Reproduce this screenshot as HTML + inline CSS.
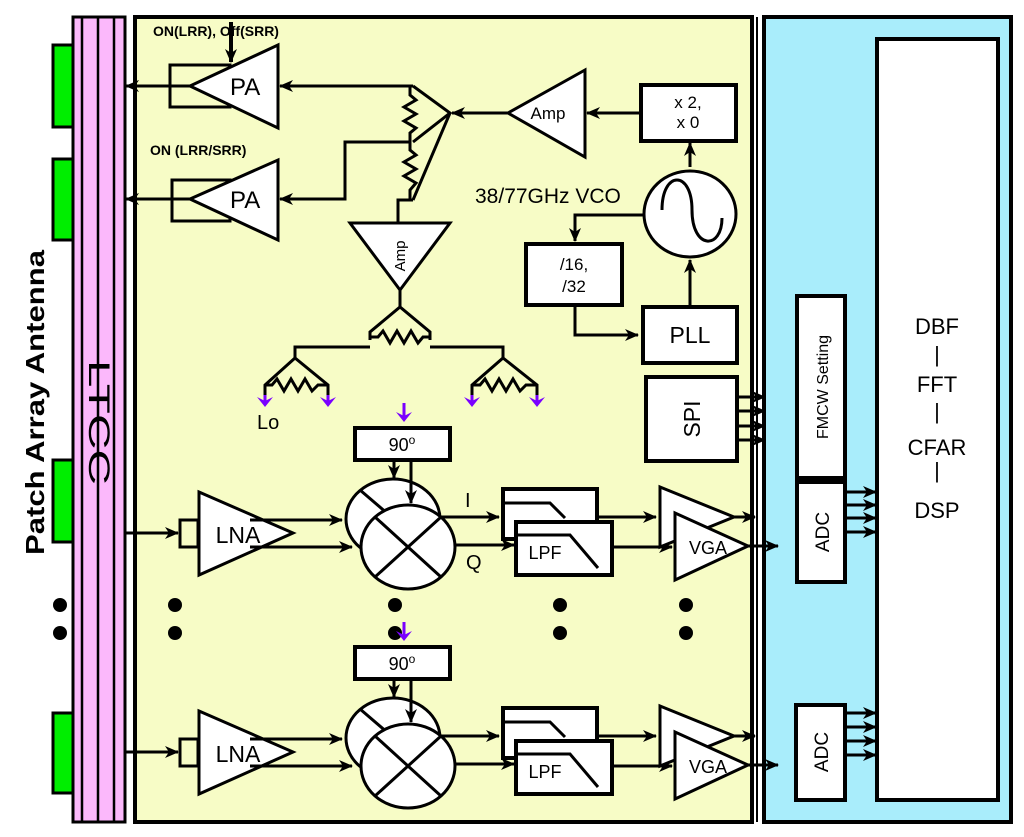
<!DOCTYPE html>
<html><head><meta charset="utf-8"><style>body{margin:0;background:#fff}svg{display:block}text{font-family:"Liberation Sans",Arial,sans-serif}</style></head><body>
<svg width="1024" height="837" viewBox="0 0 1024 837" xmlns="http://www.w3.org/2000/svg">
<defs>
<marker id="a" markerWidth="14" markerHeight="12" refX="13" refY="6" orient="auto" markerUnits="userSpaceOnUse"><path d="M0,0 L14,6 L0,12 L4,6 z" fill="#000"/></marker>
<marker id="p" markerWidth="16" markerHeight="16" refX="8" refY="14" orient="0" markerUnits="userSpaceOnUse"><path d="M0,6 L8,16 L16,6 L8,10 z" fill="#7a00ff"/></marker>
</defs>
<rect x="135" y="17" width="617" height="805" fill="#f7fcc6" stroke="#000" stroke-width="4"/>
<rect x="764" y="17" width="247" height="805" fill="#a9edfb" stroke="#000" stroke-width="4"/>
<rect x="877" y="39" width="121" height="761" fill="#fff" stroke="#000" stroke-width="4"/>
<line x1="757" y1="17" x2="757" y2="822" stroke="#000" stroke-width="2"/>
<rect x="73" y="17" width="52" height="805" fill="#fbb8fb" stroke="#000" stroke-width="3"/>
<g stroke="#000" stroke-width="2.5"><line x1="82" y1="17" x2="82" y2="822"/><line x1="98" y1="17" x2="98" y2="822"/><line x1="114" y1="17" x2="114" y2="822"/></g>
<g fill="#00ee00" stroke="#000" stroke-width="3"><rect x="53" y="45" width="20" height="82"/><rect x="53" y="159" width="20" height="81"/><rect x="53" y="460" width="20" height="82"/><rect x="53" y="713" width="20" height="80"/></g>
<text transform="translate(89,360) rotate(90)" font-size="30" fill="#000" textLength="125" lengthAdjust="spacingAndGlyphs">LTCC</text>
<text transform="translate(44,555) rotate(-90)" font-size="26" font-weight="bold" textLength="305" lengthAdjust="spacingAndGlyphs">Patch Array Antenna</text>
<g fill="#000"><circle cx="60" cy="605" r="7"/><circle cx="60" cy="633" r="7"/><circle cx="175" cy="605" r="7"/><circle cx="175" cy="633" r="7"/><circle cx="395" cy="605" r="7"/><circle cx="395" cy="633" r="7"/><circle cx="560" cy="605" r="7"/><circle cx="560" cy="633" r="7"/><circle cx="686" cy="605" r="7"/><circle cx="686" cy="633" r="7"/></g>

<g stroke="#000" stroke-width="3" fill="none">
<rect x="170" y="65" width="60" height="42"/>
<polygon points="190,86 278,45 278,128" fill="#fff"/>
<line x1="190" y1="86" x2="126" y2="86" marker-end="url(#a)"/>
<line x1="231" y1="22" x2="231" y2="62" stroke-width="4" marker-end="url(#a)"/>
<rect x="172" y="180" width="58" height="41"/>
<polygon points="190,199 278,160 278,240" fill="#fff"/>
<line x1="190" y1="199" x2="126" y2="199" marker-end="url(#a)"/>
<line x1="413" y1="86" x2="280" y2="86" marker-end="url(#a)"/>
<polyline points="410,86 410,95 416,100 404,107 416,114 404,121 416,128 410,133 410,142 410,150 416,155 404,162 416,169 404,176 416,183 410,190 410,200"/>
<polyline points="413,86 450,113 413,142"/>
<line x1="450" y1="113" x2="413" y2="200"/>
<polyline points="410,142 345,142 345,199 280,199" marker-end="url(#a)"/>
<polyline points="413,200 398,200 398,223"/>
<polygon points="350,223 450,223 400,290" fill="#fff"/>
<polyline points="400,290 400,307"/>
<polyline points="370,340 370,332 400,307 430,332 430,340"/>
<polyline points="370,337 378,337 383,331 390,343 397,331 404,343 411,331 418,343 423,337 430,337"/>
<polyline points="370,347 295,347 295,358"/>
<polyline points="430,347 503,347 503,358"/>
<polyline points="265,395 265,385 295,358 328,385 328,395"/>
<polyline points="265,385 272,385 277,379 284,391 291,379 298,391 305,379 312,391 318,385 328,385"/>
<polyline points="472,395 472,385 503,358 537,385 537,395"/>
<polyline points="472,385 480,385 485,379 492,391 499,379 506,391 513,379 520,391 526,385 537,385"/>
<line x1="508" y1="113" x2="452" y2="113" marker-end="url(#a)"/>
<polygon points="508,113 585,70 585,157" fill="#fff"/>
<line x1="640" y1="113" x2="587" y2="113" marker-end="url(#a)"/>
<rect x="641" y="85" width="95" height="56" fill="#fff" stroke-width="4"/>
<line x1="690" y1="167" x2="690" y2="143" marker-end="url(#a)"/>
<ellipse cx="690" cy="214" rx="46" ry="43" fill="#fff"/>
<path d="M662,210 C662,170 692,170 692,210 C692,250 722,250 722,218" stroke-width="3"/>
<polyline points="644,215 575,215 575,241" marker-end="url(#a)"/>
<rect x="526" y="244" width="96" height="61" fill="#fff" stroke-width="4"/>
<polyline points="575,305 575,335 638,335" marker-end="url(#a)"/>
<rect x="643" y="307" width="94" height="56" fill="#fff" stroke-width="4"/>
<line x1="690" y1="307" x2="690" y2="260" marker-end="url(#a)"/>
<rect x="646" y="377" width="91" height="84" fill="#fff" stroke-width="4"/>
<line x1="737" y1="397" x2="765" y2="397" marker-end="url(#a)"/>
<line x1="737" y1="411" x2="765" y2="411" marker-end="url(#a)"/>
<line x1="737" y1="426" x2="765" y2="426" marker-end="url(#a)"/>
<line x1="737" y1="440" x2="765" y2="440" marker-end="url(#a)"/>
<rect x="797" y="296" width="48" height="182" fill="#fff" stroke-width="4"/>
<rect x="797" y="482" width="48" height="100" fill="#fff" stroke-width="4"/>
<rect x="796" y="705" width="49" height="95" fill="#fff" stroke-width="4"/>
<line x1="845" y1="492" x2="876" y2="492" marker-end="url(#a)"/>
<line x1="845" y1="505" x2="876" y2="505" marker-end="url(#a)"/>
<line x1="845" y1="518" x2="876" y2="518" marker-end="url(#a)"/>
<line x1="845" y1="532" x2="876" y2="532" marker-end="url(#a)"/>
<line x1="845" y1="713" x2="876" y2="713" marker-end="url(#a)"/>
<line x1="845" y1="727" x2="876" y2="727" marker-end="url(#a)"/>
<line x1="845" y1="741" x2="876" y2="741" marker-end="url(#a)"/>
<line x1="845" y1="755" x2="876" y2="755" marker-end="url(#a)"/>
</g>

<g id="rx" stroke="#000" stroke-width="3" fill="none">
<line x1="125" y1="533" x2="178" y2="533" marker-end="url(#a)"/>
<rect x="180" y="520" width="18" height="27"/>
<polygon points="199,492 293,533 199,575" fill="#fff"/>
<line x1="250" y1="520" x2="342" y2="520" marker-end="url(#a)"/>
<line x1="250" y1="547" x2="352" y2="547" marker-end="url(#a)"/>
<rect x="355" y="428" width="95" height="32" fill="#fff" stroke-width="4"/>
<ellipse cx="393" cy="519" rx="47" ry="40" fill="#fff"/>
<line x1="360" y1="490" x2="430" y2="550"/>
<line x1="394" y1="460" x2="394" y2="478" marker-end="url(#a)"/>
<line x1="411" y1="460" x2="411" y2="503" marker-end="url(#a)"/>
<ellipse cx="408" cy="547" rx="47" ry="42" fill="#fff"/>
<line x1="375" y1="517" x2="441" y2="577"/><line x1="441" y1="517" x2="375" y2="577"/>
<line x1="440" y1="517" x2="499" y2="517" marker-end="url(#a)"/>
<line x1="455" y1="545" x2="514" y2="545" marker-end="url(#a)"/>
<rect x="503" y="489" width="94" height="50" fill="#fff" stroke-width="4"/>
<polyline points="505,503 550,503 565,518"/>
<rect x="516" y="522" width="96" height="53" fill="#fff" stroke-width="4"/>
<polyline points="518,535 570,535 598,568"/>
<line x1="597" y1="517" x2="656" y2="517" marker-end="url(#a)"/>
<line x1="612" y1="547" x2="672" y2="547" marker-end="url(#a)"/>
<polygon points="660,487 734,517 660,547" fill="#fff"/>
<line x1="734" y1="517" x2="755" y2="517" marker-end="url(#a)"/>
<polygon points="675,513 748,546 675,580" fill="#fff"/>
<line x1="748" y1="546" x2="778" y2="546" marker-end="url(#a)"/>
<text x="238" y="543" font-size="23" fill="#000" stroke="none" text-anchor="middle">LNA</text>
<text x="402" y="451" font-size="18" fill="#000" stroke="none" text-anchor="middle">90<tspan font-size="12" dy="-7">o</tspan></text>
<text x="545" y="559" font-size="18" fill="#000" stroke="none" text-anchor="middle">LPF</text>
<text x="708" y="554" font-size="18" fill="#000" stroke="none" text-anchor="middle">VGA</text>
</g>
<use href="#rx" transform="translate(0,219)"/>
<text x="465" y="507" font-size="20">I</text>
<text x="466" y="569" font-size="20">Q</text>

<g stroke="#7a00ff" stroke-width="3">
<line x1="265" y1="395" x2="265" y2="405" marker-end="url(#p)"/>
<line x1="328" y1="395" x2="328" y2="405" marker-end="url(#p)"/>
<line x1="472" y1="395" x2="472" y2="405" marker-end="url(#p)"/>
<line x1="537" y1="395" x2="537" y2="405" marker-end="url(#p)"/>
<line x1="404" y1="403" x2="404" y2="420" marker-end="url(#p)"/>
<line x1="404" y1="622" x2="404" y2="639" marker-end="url(#p)"/>
</g>

<text x="153" y="36" font-size="14" font-weight="bold">ON(LRR), Off(SRR)</text>
<text x="150" y="155" font-size="14" font-weight="bold">ON (LRR/SRR)</text>
<text x="230" y="95" font-size="24">PA</text>
<text x="230" y="208" font-size="24">PA</text>
<text transform="translate(405,256) rotate(-90)" font-size="15" text-anchor="middle">Amp</text>
<text x="257" y="429" font-size="20">Lo</text>
<text x="548" y="119" font-size="17" text-anchor="middle">Amp</text>
<text x="688" y="108" font-size="17" text-anchor="middle">x 2,</text>
<text x="688" y="128" font-size="17" text-anchor="middle">x 0</text>
<text x="475" y="203" font-size="21">38/77GHz VCO</text>
<text x="574" y="270" font-size="17" text-anchor="middle">/16,</text>
<text x="574" y="292" font-size="17" text-anchor="middle">/32</text>
<text x="690" y="343" font-size="23" text-anchor="middle">PLL</text>
<text transform="translate(700,419) rotate(-90)" font-size="23" text-anchor="middle">SPI</text>
<text transform="translate(828,387) rotate(-90)" font-size="16" text-anchor="middle">FMCW Setting</text>
<text transform="translate(829,532) rotate(-90)" font-size="19" text-anchor="middle">ADC</text>
<text transform="translate(828,752) rotate(-90)" font-size="19" text-anchor="middle">ADC</text>
<g font-size="22" text-anchor="middle"><text x="937" y="334">DBF</text><text x="937" y="362">|</text><text x="937" y="392">FFT</text><text x="937" y="419">|</text><text x="937" y="455">CFAR</text><text x="937" y="478">|</text><text x="937" y="518">DSP</text></g>
</svg>
</body></html>
